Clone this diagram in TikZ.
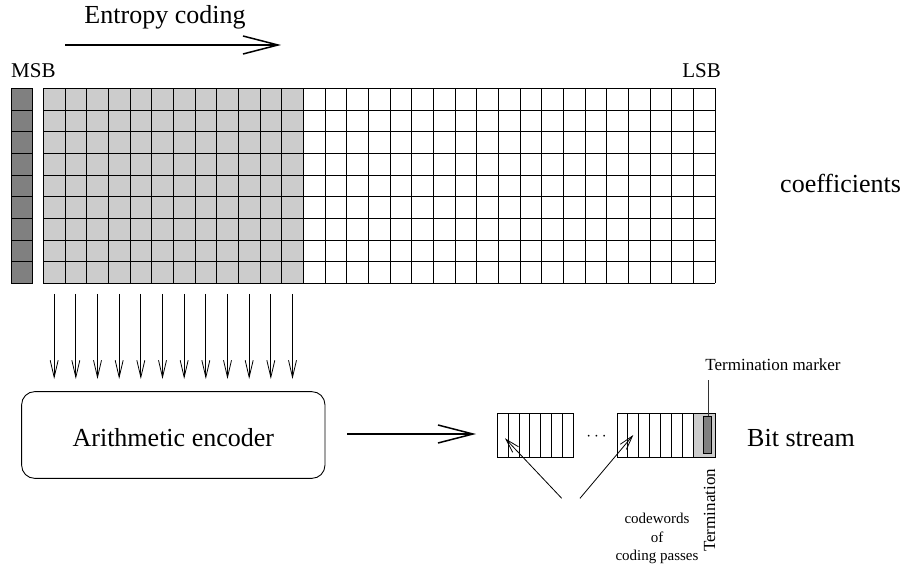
\documentclass[tikz,border=0pt]{standalone}
\usepackage{fontspec}
\setmainfont{Liberation Serif}
\newfontfamily\tnr{Liberation Serif}
\usetikzlibrary{arrows.meta}
\definecolor{darkg}{RGB}{128,128,128}
\definecolor{lightg}{RGB}{204,204,204}
\begin{document}
\begin{tikzpicture}[x=1pt,y=-1pt,
  gridline/.style={draw=black, line width=0.9pt},
  bigarrow/.style={line width=1.5pt, -{Straight Barb[length=35pt,width=18pt,line width=1.5pt]}},
  thinarrow/.style={line width=0.8pt, -{Straight Barb[length=17pt,width=8pt,line width=0.8pt]}},
  smallarrow/.style={line width=0.8pt, -{Straight Barb[length=14pt,width=8pt,line width=0.8pt]}},
  biglabel/.style={font=\tnr\fontsize{26}{30}\selectfont, inner sep=0pt},
  midlabel/.style={font=\tnr\fontsize{21}{25}\selectfont, inner sep=0pt},
  smalllabel/.style={font=\tnr\fontsize{17}{20}\selectfont, inner sep=0pt},
  tinylabel/.style={font=\tnr\fontsize{15}{18.5}\selectfont, inner sep=0pt, align=center},
  blockbox/.style={draw=black, line width=0.9pt, inner sep=0pt, anchor=north west}
]
\useasboundingbox (0,0) rectangle (902,569);

% ---------- title arrow ----------
\node[biglabel, anchor=base] (ent) at (165,24) {Entropy coding};
\coordinate (e1) at (65,45);
\coordinate (e2) at (281,45);
\draw[bigarrow] (e1) -- (e2);

% ---------- labels ----------
\node[midlabel, anchor=base west] (msb) at (11,78) {MSB};
\node[midlabel, anchor=base east] (lsb) at (721,78) {LSB};
\node[biglabel, anchor=base west] (coef) at (780,193) {coefficients};

% ---------- MSB column ----------
\fill[darkg] (11,88.33) rectangle (32.67,283.33);
\foreach \j in {0,...,9} \draw[gridline] (11,88.33+\j*21.667) -- (32.67,88.33+\j*21.667);
\draw[gridline] (11,88.33) -- (11,283.33);
\draw[gridline] (32.67,88.33) -- (32.67,283.33);

% ---------- coefficient grid ----------
\fill[lightg] (43.33,88.33) rectangle (303.33,283.33);
\foreach \i in {0,...,31} \draw[gridline] (43.33+\i*21.667,88.33) -- (43.33+\i*21.667,283.33);
\foreach \j in {0,...,9} \draw[gridline] (43.33,88.33+\j*21.667) -- (715,88.33+\j*21.667);

% ---------- arrows to encoder ----------
\foreach \i in {0,...,11} {
  \coordinate (a\i) at (54.17+\i*21.667,294);
  \coordinate (b\i) at (54.17+\i*21.667,379);
  \draw[thinarrow] (a\i) -- (b\i);
}

% ---------- encoder ----------
\node[draw=black, line width=0.9pt, rounded corners=13pt, minimum width=303.3pt,
      minimum height=86.7pt, inner sep=0pt] (enc) at (173.3,435) {};
\node[biglabel, anchor=base] (enclab) at (173.3,446.5) {Arithmetic encoder};

% ---------- bit stream blocks ----------
\node[blockbox, minimum width=76pt, minimum height=43.4pt] (bs1) at (497.3,413.3) {};
\foreach \i in {1,...,6} \draw[gridline] (497.3+\i*10.86,413.3) -- (497.3+\i*10.86,456.7);

\fill[lightg] (693.3,413.3) rectangle (715,456.7);
\node[blockbox, minimum width=98.3pt, minimum height=43.4pt] (bs2) at (616.7,413.3) {};
\foreach \i in {1,...,7} \draw[gridline] (616.7+\i*10.95,413.3) -- (616.7+\i*10.95,456.7);

\node[font=\fontsize{17}{20}\selectfont, inner sep=0pt] (dots) at (596.5,437) {$\cdots$};

% encoder to bit stream
\coordinate (s1) at (347,434);
\coordinate (s2) at (476,434);
\draw[bigarrow] (s1) -- (s2);

% termination marker
\node[smalllabel, anchor=base] (tm) at (773,370) {Termination marker};
\coordinate (tmline) at (708.3,380);
\draw[line width=1pt, black!80] (tmline) -- (708.3,420);
\node[draw=black, line width=0.8pt, fill=darkg, minimum width=8.4pt, minimum height=36.6pt,
      inner sep=0pt] (mk) at (707.5,435) {};

\node[biglabel, anchor=base west] (bits) at (747,446) {Bit stream};

% termination (rotated)
\node[smalllabel, rotate=90, anchor=base west] (term) at (715,552) {Termination};

% codewords
\node[tinylabel, anchor=north] (cw) at (657,513) {codewords\\of\\coding passes};
\coordinate (c1) at (561.7,498.3);
\coordinate (t1) at (505,438.3);
\coordinate (c2) at (580,498.3);
\coordinate (t2) at (633.3,435);
\draw[smallarrow] (c1) -- (t1);
\draw[smallarrow] (c2) -- (t2);
\end{tikzpicture}
\end{document}
